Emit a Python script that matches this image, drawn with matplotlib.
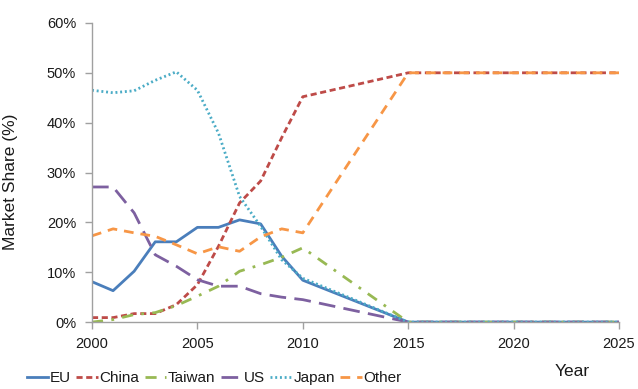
import matplotlib
matplotlib.use("Agg")
import matplotlib.pyplot as plt

plt.rcParams['font.family'] = ['Liberation Sans', 'DejaVu Sans']

years = [2000, 2001, 2002, 2003, 2004, 2005, 2006, 2007, 2008, 2009, 2010, 2015, 2020, 2025]
eu     = [8.1, 6.3, 10.2, 16.1, 16.1, 19.0, 19.0, 20.5, 19.7, 13.2, 8.4, 0, 0, 0]
china  = [0.9, 0.9, 1.7, 1.7, 3.5, 7.5, 15.2, 23.9, 28.3, 37.0, 45.2, 50, 50, 50]
taiwan = [0.0, 0.5, 1.5, 1.9, 3.3, 5.2, 7.2, 10.2, 11.5, 13.0, 14.9, 0, 0, 0]
us     = [27.1, 27.1, 21.9, 13.5, 11.2, 8.5, 7.2, 7.2, 5.7, 5.0, 4.5, 0, 0, 0]
japan  = [46.5, 46.0, 46.4, 48.5, 50.2, 46.5, 37.9, 25.2, 19.2, 12.5, 8.8, 0, 0, 0]
other  = [17.3, 18.7, 17.9, 17.2, 15.5, 13.7, 15.1, 14.2, 17.1, 18.7, 17.9, 50, 50, 50]

x_ticks = [2000, 2005, 2010, 2015, 2020, 2025]
y_ticks = [0, 10, 20, 30, 40, 50, 60]

fig = plt.figure(figsize=(6.38, 3.89), dpi=100)
ax = fig.add_axes([0.1442, 0.172, 0.826, 0.769])

lw = 2.0
ax.plot(years, eu, color='#4A7EBB', lw=lw, ls='-', label='EU')
ax.plot(years, china, color='#BE4B48', lw=lw, ls=(0, (2.2, 1.3)), label='China')
ax.plot(years, taiwan, color='#98B954', lw=lw, ls=(0, (4, 3, 1, 3)), label='Taiwan')
ax.plot(years, us, color='#7D60A0', lw=lw, ls=(0, (6, 3)), label='US')
ax.plot(years, japan, color='#4BACC6', lw=lw, ls=(0, (0.7, 1.0)), label='Japan')
ax.plot(years, other, color='#F79646', lw=lw, ls=(0, (3.5, 2.5)), label='Other')

ax.set_xlim(2000, 2025)
ax.set_ylim(0, 60)
ax.set_xticks(x_ticks)
ax.set_yticks(y_ticks)
ax.set_yticklabels([f'{v}%' for v in y_ticks])

for side in ('top', 'right'):
    ax.spines[side].set_visible(False)
for side in ('left', 'bottom'):
    ax.spines[side].set_color('#A0A0A0')
    ax.spines[side].set_linewidth(1.0)
ax.tick_params(axis='both', colors='#A0A0A0', labelcolor='#1a1a1a',
               labelsize=10.5, length=5, width=1.0, direction='out')
ax.tick_params(axis='x', pad=6)
ax.tick_params(axis='y', pad=6.5)

ax.set_ylabel('Market Share (%)', fontsize=12.5, color='#1a1a1a')
ax.yaxis.set_label_coords(-0.14, 0.468)
fig.text(0.897, 0.046, 'Year', fontsize=12.5, color='#1a1a1a', ha='center', va='center')

fig.legend(loc='lower left', bbox_to_anchor=(0.02, -0.025), ncol=6, frameon=False,
           fontsize=11, handlelength=1.4, handletextpad=0.12, columnspacing=0.35,
           labelcolor='#1a1a1a')

fig.savefig('out.png', dpi=100)
